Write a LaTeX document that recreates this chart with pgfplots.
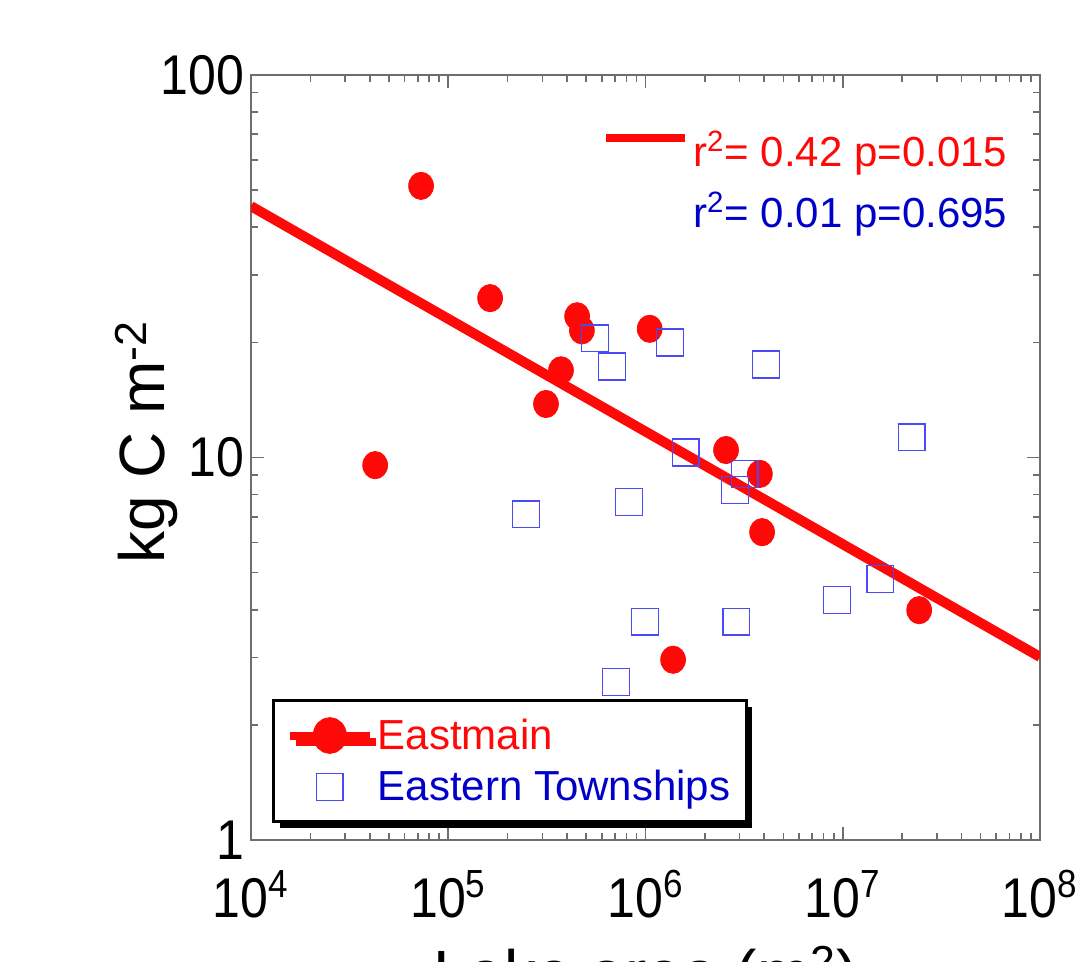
\documentclass[border=0pt]{standalone}
\usepackage{fontspec}
\setmainfont{Liberation Sans}
\usepackage{pgfplots}
\pgfplotsset{compat=1.18}
\usetikzlibrary{shadows}
\definecolor{ptred}{RGB}{255,8,8}
\definecolor{sqblue}{RGB}{75,75,245}
\definecolor{txtblue}{RGB}{0,0,200}
\definecolor{axgray}{RGB}{110,110,110}

\begin{document}
\begin{tikzpicture}
\begin{axis}[
    name=ax,
    scale only axis,
    width=394.5pt, height=382.5pt,
    xmode=log, ymode=log,
    log basis x=10, log basis y=10,
    xmin=1e4, xmax=1e8, ymin=1, ymax=100,
    axis line style={axgray, line width=1pt},
    every tick/.style={axgray, line width=0.8pt},
    major tick length=6.5pt, minor tick length=3.5pt,
    tick align=inside,
    xticklabel={10\textsuperscript{\pgfmathparse{int(round(\tick))}\pgfmathresult}},
    yticklabel={\pgfmathparse{int(round(10^\tick))}\pgfmathresult},
    tick label style={font=\fontsize{25}{30}\selectfont, yscale=1.12},
    xticklabel style={yshift=-10pt},
    xlabel={Lake area (m\textsuperscript{2})},
    ylabel={kg C m\textsuperscript{-2}},
    x label style={font=\fontsize{32}{38}\selectfont, at={(axis description cs:0.5,-0.129)}, anchor=north},
    y label style={font=\fontsize{32}{38}\selectfont, at={(axis description cs:-0.181,0.52)}, anchor=north},
    legend image code/.code={
        \draw[mark repeat=2, mark phase=2, #1] plot coordinates {(0pt,0pt) (20pt,0pt) (40pt,0pt)};
    },
    legend cell align=left,
    legend style={at={(0.027,0.022)}, anchor=south west,
        draw=black, line width=1.5pt,
        font=\fontsize{21}{25}\selectfont,
        inner xsep=6pt, inner ysep=7pt, row sep=5pt,
        drop shadow={shadow xshift=3pt, shadow yshift=-3pt, fill=black, opacity=1}},
]
% Eastmain
\addplot[only marks, mark=*, color=ptred, mark size=6.2pt, mark options={yscale=1.1}, forget plot] coordinates {
    (7.28e4,51.3) (4.26e4,9.55) (1.63e5,26.1) (4.5e5,23.4) (4.76e5,21.5)
    (1.05e6,21.7) (3.73e5,16.9) (3.13e5,13.8) (2.56e6,10.46) (3.8e6,9.06)
    (3.9e6,6.38) (2.44e7,3.99) (1.38e6,2.96)
};
% Eastern Townships
\addplot[only marks, mark=square, color=sqblue, mark size=6.7pt, line width=0.8pt, forget plot] coordinates {
    (5.55e5,20.5) (1.33e6,20.0) (6.76e5,17.3) (4.08e6,17.5) (1.6e6,10.3)
    (2.24e7,11.3) (3.19e6,9.06) (2.84e6,8.22) (8.24e5,7.65) (2.48e5,7.11)
    (1.55e7,4.81) (9.36e6,4.24) (9.93e5,3.72) (2.88e6,3.72) (7.08e5,2.59)
};
% regression fit, Eastmain
\addplot[ptred, line width=5pt, forget plot] coordinates {(1e4,45.4) (1e8,3.01)};

\addlegendimage{ptred, line width=4pt, mark=*, mark size=6.5pt, mark options={solid, yscale=1.1}}
\addlegendentry[text=ptred]{Eastmain}
\addlegendimage{only marks, mark=square, sqblue, mark size=6.7pt, line width=0.8pt}
\addlegendentry[text=txtblue]{Eastern Townships}

\draw[ptred, line width=4pt] (rel axis cs:0.45,0.918) -- (rel axis cs:0.55,0.918);
\node[anchor=base west, inner sep=0pt, text=ptred, font=\fontsize{21}{25}\selectfont]
    at (rel axis cs:0.560,0.880) {r\textsuperscript{2}= 0.42 p=0.015};
\node[anchor=base west, inner sep=0pt, text=txtblue, font=\fontsize{21}{25}\selectfont]
    at (rel axis cs:0.560,0.800) {r\textsuperscript{2}= 0.01 p=0.695};
\end{axis}
\pgfresetboundingbox
\path[use as bounding box] ([shift={(-125.5pt,-61pt)}]ax.south west) rectangle ([shift={(18pt,37.5pt)}]ax.north east);
\end{tikzpicture}
\end{document}
